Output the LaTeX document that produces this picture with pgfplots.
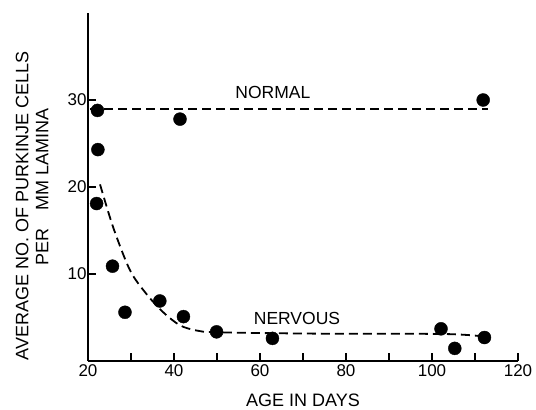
\documentclass[border=0pt]{standalone}
\usepackage{fontspec}
\setmainfont{Liberation Sans}
\usepackage{pgfplots}
\pgfplotsset{compat=1.18}

\begin{document}
\begin{tikzpicture}
\begin{axis}[
    scale only axis,
    width=430pt, height=348pt,
    xmin=20, xmax=120, ymin=0, ymax=40,
    axis x line=bottom, axis y line=left,
    axis line style={-, line width=2pt},
    xtick={20,40,...,120},
    minor xtick={30,50,...,110},
    ytick={10,20,30},
    tick align=inside,
    major tick length=8pt, minor tick length=8pt,
    tick style={line width=1.8pt, black},
    /pgf/number format/assume math mode=true,
    ticklabel style={font=\fontsize{17}{19}\selectfont},
    yticklabel style={xshift=2pt},
    xlabel={AGE IN DAYS},
    xlabel style={font=\fontsize{18}{20}\selectfont, at={(rel axis cs:0.5,0)}, anchor=center, yshift=-39pt},
    ylabel={AVERAGE NO. OF PURKINJE CELLS\\\hspace{38pt}PER\quad MM LAMINA},
    ylabel style={align=center, font=\fontsize{18}{20}\selectfont,
        at={(rel axis cs:0,0.445)}, anchor=center, yshift=56pt},
    clip=false,
]
% normal fit
\addplot[black, line width=1.8pt, dash pattern=on 9pt off 5pt] coordinates {
    (20.5,29) (113,29)
};
% nervous fit
\addplot[black, line width=1.8pt, dash pattern=on 9pt off 5pt, smooth] coordinates {
    (22.8,20.3) (25.9,15.3) (29.8,10.4) (33.6,7.7) (37.5,5.6)
    (41.4,4.1) (45.3,3.5) (50,3.3) (72,3.15) (103,3.1) (112.3,2.8)
};
% normal data
\addplot[only marks, mark=*, mark size=6.5pt, black] coordinates {
    (22.2,28.8) (41.4,27.8) (111.9,30.0)
};
% nervous data
\addplot[only marks, mark=*, mark size=6.5pt, black] coordinates {
    (22.3,24.3) (22.0,18.1) (25.7,10.9) (28.6,5.6) (36.7,6.9)
    (42.2,5.1) (49.9,3.35) (62.9,2.6) (102.1,3.7) (105.3,1.45) (112.2,2.7)
};
\node[font=\fontsize{17.5}{19}\selectfont] at (axis cs:63,30.9) {NORMAL};
\node[font=\fontsize{17.5}{19}\selectfont] at (axis cs:68.6,4.9) {NERVOUS};
% page margins as in the reference
\path (rel axis cs:0,0) ++(-88pt,-49pt);
\path (rel axis cs:1,1) ++(18pt,13pt);
\end{axis}
\end{tikzpicture}
\end{document}
